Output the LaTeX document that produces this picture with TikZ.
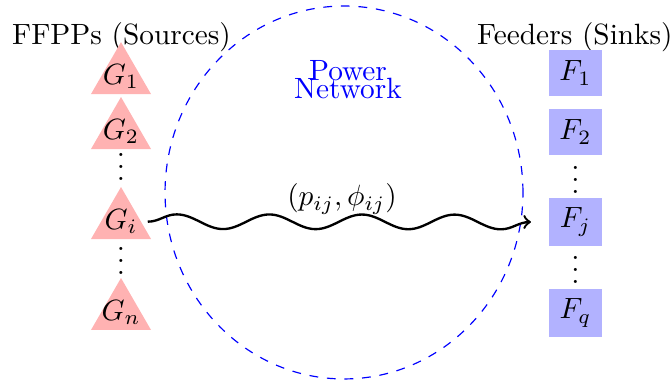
\documentclass[tikz,border=0pt]{standalone}
\usetikzlibrary{shapes.geometric,decorations.pathmorphing}
\tikzset{
  tri/.style={regular polygon, regular polygon sides=3, minimum size=0.831cm, inner sep=0pt, fill=red!30},
  feedbox/.style={rectangle, fill=blue!30, minimum width=0.636cm, minimum height=0.55cm},
  net/.style={draw=blue, dashed},
  vdotsnode/.style={inner sep=0pt},
  wave/.style={->, thick, decorate, decoration={snake, amplitude=2.5pt, segment length=31.6pt}}
}
\newcommand{\myvdots}{\raisebox{-4.5pt}[0pt][0pt]{$\vdots$}}
\begin{document}
\begin{tikzpicture}
\useasboundingbox (0,0) rectangle (8.058,-4.568);
% network
\draw[net] (4.125,-2.308) ellipse [x radius=2.146cm, y radius=2.236cm];
\node[blue, align=center] (pn) at (4.173,-0.959) {Power\\[-5.8pt]Network};
% headers
\node (hs) at (1.457,-0.444) {FFPPs (Sources)};
\node (hf) at (6.894,-0.444) {Feeders (Sinks)};
% sources
\node[tri] (g1) at (1.451,-0.920) {};
\node[tri] (g2) at (1.451,-1.579) {};
\node[tri] (gi) at (1.451,-2.658) {};
\node[tri] (gn) at (1.451,-3.749) {};
\node (t1) at (g1.center) {$G_1$};
\node (t2) at (g2.center) {$G_2$};
\node (ti) at (gi.center) {$G_i$};
\node (tn) at (gn.center) {$G_n$};
\node[vdotsnode] (ld1) at (1.451,-2.002) {\myvdots};
\node[vdotsnode] (ld2) at (1.451,-3.130) {\myvdots};
% sinks
\node[feedbox] (f1) at (6.900,-0.875) {$F_1$};
\node[feedbox] (f2) at (6.900,-1.583) {$F_2$};
\node[feedbox] (fj) at (6.900,-2.662) {$F_j$};
\node[feedbox] (fq) at (6.900,-3.753) {$F_q$};
\node[vdotsnode] (rd1) at (6.900,-2.158) {\myvdots};
\node[vdotsnode] (rd2) at (6.900,-3.237) {\myvdots};
% flow
\coordinate (wend) at (6.367,-2.662);
\draw[wave] (ti.east) -- (wend);
\node (lbl) at (4.101,-2.386) {$(p_{ij},\phi_{ij})$};
\end{tikzpicture}
\end{document}
